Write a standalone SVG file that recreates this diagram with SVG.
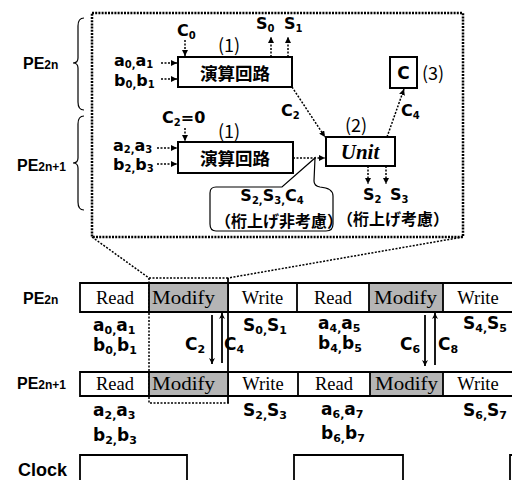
<svg xmlns="http://www.w3.org/2000/svg" width="512" height="480" viewBox="0 0 512 480">
<defs>
<style>
.lbl{font-family:"Liberation Sans",Arial,sans-serif;font-weight:bold;fill:#000}
.v{font-family:"DejaVu Sans",Verdana,sans-serif;font-weight:bold;fill:#000}
.jp{font-family:"Noto Sans CJK JP",sans-serif;fill:#000}
.tm{font-family:"Liberation Serif","Times New Roman",serif;fill:#000;font-size:18.5px}
.box{fill:#fff;stroke:#000;stroke-width:2}
.dot{fill:none;stroke:#000;stroke-width:1.5;stroke-dasharray:2 1.5}
.bigdot{fill:none;stroke:#000;stroke-width:2.5;stroke-dasharray:2 1.2}
.ln{fill:none;stroke:#000;stroke-width:1.8}
.thin{fill:none;stroke:#000;stroke-width:1.2}
.sh{fill:#b5b5b5}
</style>
<marker id="ah" viewBox="0 0 10 10" refX="10" refY="5" markerWidth="6" markerHeight="6" markerUnits="userSpaceOnUse" orient="auto"><path d="M0,0 L10,5 L0,10 z" fill="#000"/></marker>
<marker id="ah2" viewBox="0 0 10 10" refX="10" refY="5" markerWidth="9" markerHeight="6" markerUnits="userSpaceOnUse" orient="auto"><path d="M0,0 L10,5 L0,10 L3,5 z" fill="#000"/></marker>
</defs>

<!-- left labels -->
<g id="label-pe2n-top"><text class="lbl" x="23" y="69" font-size="16">PE<tspan font-size="12">2n</tspan></text></g>
<g id="label-pe2n1-top"><text class="lbl" x="17" y="171" font-size="16">PE<tspan font-size="12">2n+1</tspan></text></g>
<g id="braces">
<path class="thin" d="M84,18 Q78,18 78,26 L78,58 Q78,63 73,63 Q78,63 78,68 L78,102 Q78,110 84,110"/>
<path class="thin" d="M84,116 Q78,116 78,124 L78,158 Q78,163 73,163 Q78,163 78,168 L78,202 Q78,210 84,210"/>
</g>

<!-- detail box -->
<g id="detail-frame"><rect class="bigdot" x="92" y="13" width="371" height="224"/></g>

<g id="calc1">
<rect class="box" x="178" y="57" width="114" height="30"/>
<text class="jp" x="235" y="80" font-size="17.5" font-weight="bold" text-anchor="middle">演算回路</text>
<text class="jp" x="218" y="52" font-size="18">(1)</text>
<text class="v" x="177" y="36" font-size="16">C<tspan font-size="10" dy="3">0</tspan></text>
<text class="v" x="114" y="66" font-size="16">a<tspan font-size="10" dy="2">0,</tspan><tspan dy="-2">a</tspan><tspan font-size="10" dy="2">1</tspan></text>
<text class="v" x="114" y="86" font-size="16">b<tspan font-size="10" dy="2">0,</tspan><tspan dy="-2">b</tspan><tspan font-size="10" dy="2">1</tspan></text>
<text class="v" x="256" y="29" font-size="16">S<tspan font-size="10" dy="3">0</tspan></text>
<text class="v" x="284" y="29" font-size="16">S<tspan font-size="10" dy="3">1</tspan></text>
</g>

<g id="calc2">
<rect class="box" x="178" y="142" width="115" height="31"/>
<text class="jp" x="235" y="165" font-size="17.5" font-weight="bold" text-anchor="middle">演算回路</text>
<text class="jp" x="218" y="138" font-size="18">(1)</text>
<text class="v" x="162" y="123" font-size="16">C<tspan font-size="10" dy="3">2</tspan><tspan dy="-3">=0</tspan></text>
<text class="v" x="113" y="151" font-size="16">a<tspan font-size="10" dy="2">2,</tspan><tspan dy="-2">a</tspan><tspan font-size="10" dy="2">3</tspan></text>
<text class="v" x="113" y="170" font-size="16">b<tspan font-size="10" dy="2">2,</tspan><tspan dy="-2">b</tspan><tspan font-size="10" dy="2">3</tspan></text>
</g>

<g id="unit">
<rect class="box" x="326" y="137" width="69" height="29"/>
<text x="360" y="159" font-family="Liberation Serif,serif" font-weight="bold" font-style="italic" font-size="21" text-anchor="middle">Unit</text>
<text class="jp" x="345" y="132" font-size="18">(2)</text>
<text class="v" x="363" y="200" font-size="16">S<tspan font-size="10" dy="3">2</tspan></text>
<text class="v" x="390" y="200" font-size="16">S<tspan font-size="10" dy="3">3</tspan></text>
<text class="jp" x="337" y="225" font-size="16" font-weight="bold">（桁上げ考慮）</text>
</g>

<g id="cbox">
<rect class="box" x="390" y="57" width="27" height="31"/>
<text class="v" x="403.5" y="79" font-size="17" text-anchor="middle">C</text>
<text class="jp" x="422" y="80" font-size="18">(3)</text>
</g>

<g id="callout">
<path class="thin" d="M216,187 L282,187 L315,158 L314,181 Q314,186 320,187 Q333,188 333,196 L333,224 Q333,231 326,231 L216,231 Q210,231 210,224 L210,193 Q210,187 216,187 Z" fill="#fff"/>
<text class="v" x="272" y="201" font-size="16" text-anchor="middle">S<tspan font-size="10" dy="3">2,</tspan><tspan dy="-3">S</tspan><tspan font-size="10" dy="3">3,</tspan><tspan dy="-3">C</tspan><tspan font-size="10" dy="3">4</tspan></text>
<text class="jp" x="215" y="227" font-size="16" font-weight="bold">（桁上げ非考慮）</text>
</g>

<g id="connectors">
<line class="dot" x1="185" y1="40" x2="185" y2="56" marker-end="url(#ah)"/>
<line class="dot" x1="161" y1="63" x2="177" y2="63" marker-end="url(#ah)"/>
<line class="dot" x1="161" y1="79" x2="177" y2="79" marker-end="url(#ah)"/>
<line class="dot" x1="271" y1="57" x2="271" y2="37" marker-end="url(#ah)"/>
<line class="dot" x1="288" y1="57" x2="288" y2="37" marker-end="url(#ah)"/>
<line class="dot" x1="185" y1="128" x2="185" y2="141" marker-end="url(#ah)"/>
<line class="dot" x1="157" y1="148" x2="177" y2="148" marker-end="url(#ah)"/>
<line class="dot" x1="157" y1="164" x2="177" y2="164" marker-end="url(#ah)"/>
<line class="dot" x1="293" y1="158" x2="325" y2="158" marker-end="url(#ah)"/>
<line class="dot" x1="292" y1="87" x2="325" y2="137" marker-end="url(#ah)"/>
<line class="dot" x1="387" y1="137" x2="404" y2="89" marker-end="url(#ah)"/>
<line class="dot" x1="368" y1="166" x2="368" y2="184" marker-end="url(#ah)"/>
<line class="dot" x1="386" y1="166" x2="386" y2="184" marker-end="url(#ah)"/>
<text class="v" x="281" y="116" font-size="16">C<tspan font-size="10" dy="3">2</tspan></text>
<text class="v" x="401" y="116" font-size="16">C<tspan font-size="10" dy="3">4</tspan></text>
<!-- zoom lines -->
<line class="dot" x1="92" y1="237" x2="149" y2="278" stroke-width="2"/>
<line class="dot" x1="463" y1="237" x2="228" y2="278" stroke-width="2"/>
<path class="dot" d="M149,278 L228,278 M149,278 L149,403 L229,403"/>
<line class="ln" x1="228" y1="278" x2="228" y2="403" stroke-width="1.5"/>
<!-- timeline arrows -->
<line class="ln" x1="212" y1="315" x2="212" y2="364" stroke-width="1.3" marker-end="url(#ah2)"/>
<line class="ln" x1="222" y1="363" x2="222" y2="313" stroke-width="1.3" marker-end="url(#ah2)"/>
<line class="ln" x1="425" y1="315" x2="425" y2="366" stroke-width="1.3" marker-end="url(#ah2)"/>
<line class="ln" x1="435" y1="365" x2="435" y2="313" stroke-width="1.3" marker-end="url(#ah2)"/>
</g>

<!-- timeline PE2n -->
<g id="row-pe2n">
<text class="lbl" x="23" y="304" font-size="16">PE<tspan font-size="12">2n</tspan></text>
<rect class="sh" x="149" y="283" width="79" height="29"/>
<rect class="sh" x="369" y="283" width="74" height="29"/>
<path class="ln" d="M512,283 L80,283 L80,312 L512,312 M149,283 V312 M228,283 V312 M297,283 V312 M369,283 V312 M443,283 V312"/>
<text class="tm" x="115" y="304" text-anchor="middle">Read</text>
<text class="tm" x="152" y="304" textLength="63" lengthAdjust="spacingAndGlyphs">Modify</text>
<text class="tm" x="262.5" y="304" text-anchor="middle">Write</text>
<text class="tm" x="333" y="304" text-anchor="middle">Read</text>
<text class="tm" x="374" y="304" textLength="63" lengthAdjust="spacingAndGlyphs">Modify</text>
<text class="tm" x="478" y="304" text-anchor="middle">Write</text>
<text class="v" x="93" y="331" font-size="17">a<tspan font-size="11" dy="3">0,</tspan><tspan dy="-3">a</tspan><tspan font-size="11" dy="3">1</tspan></text>
<text class="v" x="93" y="351" font-size="17">b<tspan font-size="11" dy="3">0,</tspan><tspan dy="-3">b</tspan><tspan font-size="11" dy="3">1</tspan></text>
<text class="v" x="185" y="350" font-size="17">C<tspan font-size="11" dy="3">2</tspan></text>
<text class="v" x="224" y="350" font-size="17">C<tspan font-size="11" dy="3">4</tspan></text>
<text class="v" x="243" y="331" font-size="17">S<tspan font-size="11" dy="3">0,</tspan><tspan dy="-3">S</tspan><tspan font-size="11" dy="3">1</tspan></text>
<text class="v" x="318" y="329" font-size="17">a<tspan font-size="11" dy="3">4,</tspan><tspan dy="-3">a</tspan><tspan font-size="11" dy="3">5</tspan></text>
<text class="v" x="318" y="349" font-size="17">b<tspan font-size="11" dy="3">4,</tspan><tspan dy="-3">b</tspan><tspan font-size="11" dy="3">5</tspan></text>
<text class="v" x="400" y="350" font-size="17">C<tspan font-size="11" dy="3">6</tspan></text>
<text class="v" x="438" y="350" font-size="17">C<tspan font-size="11" dy="3">8</tspan></text>
<text class="v" x="463" y="329" font-size="17">S<tspan font-size="11" dy="3">4,</tspan><tspan dy="-3">S</tspan><tspan font-size="11" dy="3">5</tspan></text>
</g>

<!-- timeline PE2n+1 -->
<g id="row-pe2n1">
<text class="lbl" x="17" y="389" font-size="16">PE<tspan font-size="12">2n+1</tspan></text>
<rect class="sh" x="149" y="372" width="79" height="24"/>
<rect class="sh" x="370" y="372" width="73" height="24"/>
<path class="ln" d="M512,372 L80,372 L80,396 L512,396 M149,372 V396 M228,372 V396 M298,372 V396 M370,372 V396 M443,372 V396"/>
<text class="tm" x="115" y="390" text-anchor="middle">Read</text>
<text class="tm" x="152" y="390" textLength="63" lengthAdjust="spacingAndGlyphs">Modify</text>
<text class="tm" x="263" y="390" text-anchor="middle">Write</text>
<text class="tm" x="334" y="390" text-anchor="middle">Read</text>
<text class="tm" x="375" y="390" textLength="63" lengthAdjust="spacingAndGlyphs">Modify</text>
<text class="tm" x="478" y="390" text-anchor="middle">Write</text>
<text class="v" x="93" y="416" font-size="17">a<tspan font-size="11" dy="3">2,</tspan><tspan dy="-3">a</tspan><tspan font-size="11" dy="3">3</tspan></text>
<text class="v" x="93" y="441" font-size="17">b<tspan font-size="11" dy="3">2,</tspan><tspan dy="-3">b</tspan><tspan font-size="11" dy="3">3</tspan></text>
<text class="v" x="243" y="416" font-size="17">S<tspan font-size="11" dy="3">2,</tspan><tspan dy="-3">S</tspan><tspan font-size="11" dy="3">3</tspan></text>
<text class="v" x="321" y="415" font-size="17">a<tspan font-size="11" dy="3">6,</tspan><tspan dy="-3">a</tspan><tspan font-size="11" dy="3">7</tspan></text>
<text class="v" x="321" y="439" font-size="17">b<tspan font-size="11" dy="3">6,</tspan><tspan dy="-3">b</tspan><tspan font-size="11" dy="3">7</tspan></text>
<text class="v" x="463" y="416" font-size="17">S<tspan font-size="11" dy="3">6,</tspan><tspan dy="-3">S</tspan><tspan font-size="11" dy="3">7</tspan></text>
</g>

<!-- clock -->
<g id="clock">
<text class="lbl" x="18" y="476" font-size="18">Clock</text>
<path class="ln" d="M80,480 V455 H187 V480 M294,480 V455 H403 V480 M510,480 V455 H512"/>
</g>
</svg>
